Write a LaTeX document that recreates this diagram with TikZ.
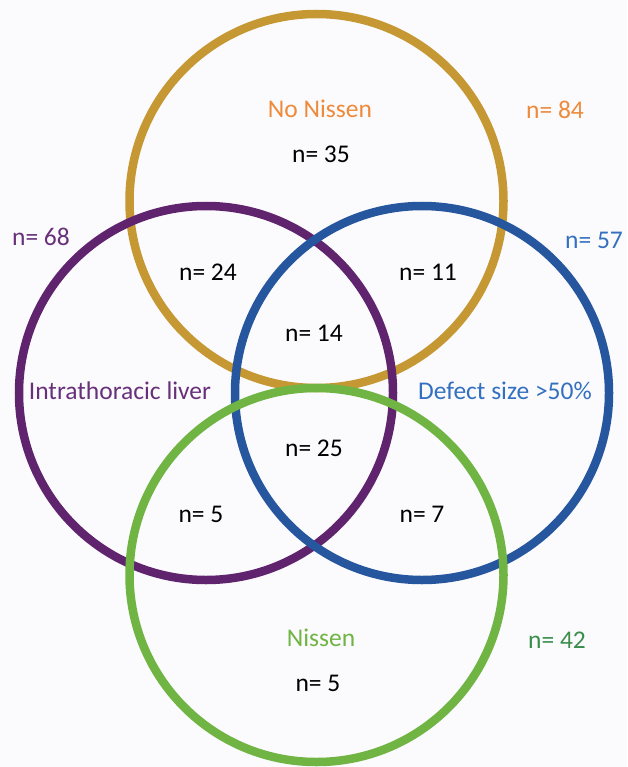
\documentclass[tikz,border=0pt]{standalone}
\usepackage{fontspec}
\setmainfont{Carlito}
\usepackage{tikz}
\usetikzlibrary{positioning}
\definecolor{ringgold}{RGB}{198,152,52}
\definecolor{ringpurple}{RGB}{96,36,110}
\definecolor{ringblue}{RGB}{38,86,158}
\definecolor{ringgreen}{RGB}{112,180,68}
\definecolor{txtorange}{RGB}{238,138,58}
\definecolor{txtpurple}{RGB}{104,48,122}
\definecolor{txtblue}{RGB}{52,112,192}
\definecolor{txtgreen}{RGB}{58,142,76}
\definecolor{paper}{RGB}{251,251,253}
\tikzset{
  ring/.style={circle, draw=#1, line width=8.5pt, minimum size=374pt, inner sep=0pt},
  vlabel/.style={font=\fontsize{25.5}{30}\selectfont, inner sep=1pt},
  setname/.style={vlabel, text=#1},
  count/.style={vlabel, text=black},
}
\begin{document}
\begin{tikzpicture}[x=1pt,y=-1pt]
  \fill[paper] (0,0) rectangle (627,767);
  \useasboundingbox (0,0) rectangle (627,767);
  % vier mengen
  \node[ring=ringgold]   (nonissen) at (316.5,201) {};
  \node[ring=ringpurple] (liver)    at (206,393)   {};
  \node[ring=ringblue]   (defect)   at (422,393)   {};
  \node[ring=ringgreen]  (nissen)   at (316.5,575) {};
  % namen der mengen
  \node[setname=txtorange] (lblnonissen) at (320,109) {No Nissen};
  \node[setname=txtpurple] (lblliver)    at (120,391) {Intrathoracic liver};
  \node[setname=txtblue]   (lbldefect)   at (505,391) {Defect size >50\%};
  \node[setname=ringgreen] (lblnissen)   at (321,638) {Nissen};
  % gesamtzahlen
  \node[setname=txtorange] (totnonissen) at (555,110) {n= 84};
  \node[setname=txtpurple] (totliver)    at (41,237)  {n= 68};
  \node[setname=txtblue]   (totdefect)   at (594,240) {n= 57};
  \node[setname=txtgreen]  (totnissen)   at (557,640) {n= 42};
  % teilmengen
  \node[count] (cnonissen) at (321,154) {n= 35};
  \node[count] (cgoldpur)  at (208,272) {n= 24};
  \node[count] (cgoldblu)  at (428,272) {n= 11};
  \node[count] (cthree)    at (314,333) {n= 14};
  \node[count] (cpurblu)   at (314,448) {n= 25};
  \node[count] (cpurgrn)   at (201,514) {n= 5};
  \node[count] (cblugrn)   at (422,514) {n= 7};
  \node[count] (cnissen)   at (318,683) {n= 5};
\end{tikzpicture}
\end{document}
